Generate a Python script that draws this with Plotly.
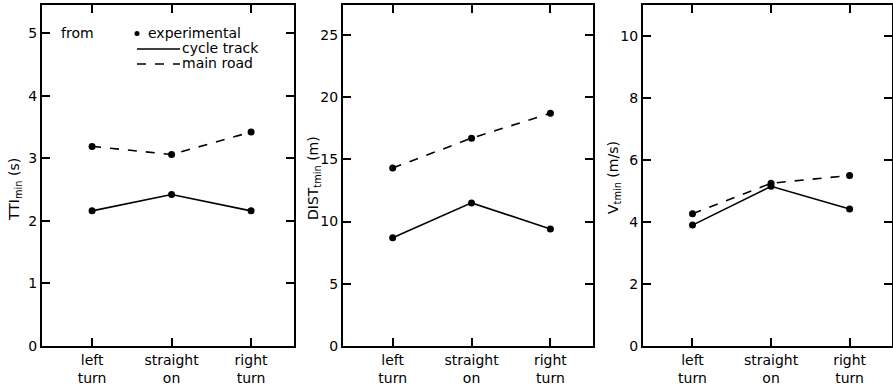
import plotly.graph_objects as go

categories = ["left<br>turn", "straight<br>on", "right<br>turn"]

tti_main = [3.19, 3.06, 3.42]
tti_cycle = [2.16, 2.42, 2.16]

dist_main = [14.3, 16.7, 18.7]
dist_cycle = [8.7, 11.5, 9.4]

v_main = [4.27, 5.25, 5.50]
v_cycle = [3.90, 5.15, 4.42]

y_ticks_1 = [0, 1, 2, 3, 4, 5]
y_ticks_2 = [0, 5, 10, 15, 20, 25]
y_ticks_3 = [0, 2, 4, 6, 8, 10]

W, H = 893, 390
FONT = "DejaVu Sans"
FS = 14

fig = go.Figure()

panels = [
    (tti_main, tti_cycle, y_ticks_1, [0, 5.45], (42, 294), "TTI<sub>min</sub> (s)", 15, 190),
    (dist_main, dist_cycle, y_ticks_2, [0, 27.4], (343, 593), "DIST<sub>tmin</sub> (m)", 314, 178),
    (v_main, v_cycle, y_ticks_3, [0, 11.0], (643, 892), "V<sub>tmin</sub> (m/s)", 614, 178),
]

ydom = [1 - 346 / H, 1 - 5 / H]

for i, (main, cyc, yt, yr, (x0, x1), ytitle, tx, ty) in enumerate(panels):
    n = "" if i == 0 else str(i + 1)
    xa, ya = "x" + n, "y" + n
    fig.add_trace(go.Scatter(
        x=categories, y=main, xaxis=xa, yaxis=ya, mode="lines+markers",
        line=dict(color="black", width=1.6, dash="dash"),
        marker=dict(color="black", size=7), showlegend=False))
    fig.add_trace(go.Scatter(
        x=categories, y=cyc, xaxis=xa, yaxis=ya, mode="lines+markers",
        line=dict(color="black", width=1.6),
        marker=dict(color="black", size=7), showlegend=False))
    axcommon = dict(showline=True, linecolor="black", linewidth=2, mirror="ticks",
                    ticks="inside", ticklen=8, tickwidth=1.5, tickcolor="black",
                    showgrid=False, zeroline=False, automargin=False,
                    tickfont=dict(family=FONT, size=FS, color="black"))
    fig.update_layout(**{
        ("xaxis" + n): dict(domain=[x0 / W, x1 / W], anchor=ya, type="category",
                            range=[-0.63, 2.54], **axcommon),
        ("yaxis" + n): dict(domain=ydom, anchor=xa, range=yr, tickvals=yt, **axcommon),
    })
    fig.add_annotation(text=ytitle, textangle=-90, xref="paper", yref="paper",
                       x=tx / W, y=1 - ty / H, xanchor="center", yanchor="middle",
                       showarrow=False, font=dict(family=FONT, size=FS, color="black"))


def px(x):
    return x / W


def py(y):
    return 1 - y / H


# legend (panel 1)
LFS = 14
fig.add_annotation(text="from", xref="paper", yref="paper", x=px(60), y=py(33),
                   xanchor="left", yanchor="middle", showarrow=False, borderpad=0,
                   font=dict(family=FONT, size=LFS, color="black"))
fig.add_shape(type="circle", xref="paper", yref="paper", x0=px(134.5), x1=px(139.5),
              y0=py(36), y1=py(31), fillcolor="black", line=dict(color="black", width=0))
for label, yy, dash in [("experimental", 33, None), ("cycle track", 48, "solid"), ("main road", 63, "dash")]:
    xs = 147 if dash is None else 181
    fig.add_annotation(text=label, xref="paper", yref="paper", x=px(xs), y=py(yy),
                       xanchor="left", yanchor="middle", showarrow=False, borderpad=0,
                       font=dict(family=FONT, size=LFS, color="black"))
    if dash:
        fig.add_shape(type="line", xref="paper", yref="paper", x0=px(137), x1=px(180),
                      y0=py(yy + 1), y1=py(yy + 1),
                      line=dict(color="black", width=1.6, dash=dash))

fig.update_layout(template="none", width=W, height=H, margin=dict(l=0, r=0, t=0, b=0),
                  paper_bgcolor="white", plot_bgcolor="white", showlegend=False,
                  font=dict(family=FONT, size=FS, color="black"))

fig.write_html("out.html", config={"displayModeBar": False},
               post_script="document.body.style.margin='0';document.body.style.overflow='hidden';")
